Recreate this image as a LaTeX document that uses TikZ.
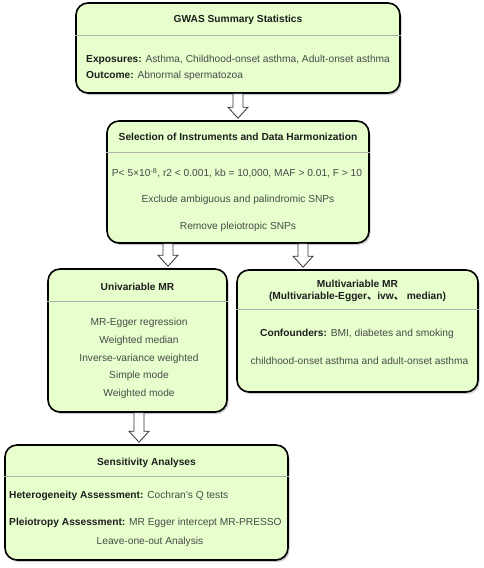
\documentclass[tikz,border=0pt]{standalone}
\usepackage{fontspec}
\setmainfont{Liberation Sans}
\newfontfamily\cjk{Noto Sans CJK SC}
\usetikzlibrary{calc,shadows}
\definecolor{boxfill}{HTML}{E6FFCC}
\definecolor{txtdark}{HTML}{1E1E1E}
\definecolor{txtgray}{HTML}{4A4A4A}
\definecolor{sepgray}{HTML}{B0B0B0}
\tikzset{
  flowbox/.style={draw=black, line width=1.6pt, fill=boxfill, rounded corners=12pt,
    inner sep=0pt, drop shadow={shadow xshift=1.5pt, shadow yshift=-2pt, opacity=0.35, fill=black!60}},
  sepline/.style={draw=sepgray, line width=0.8pt},
  ttl/.style={font=\fontsize{10.2}{12}\selectfont\bfseries, text=txtdark, inner sep=0pt},
  txt/.style={font=\fontsize{10.2}{12}\selectfont, text=txtgray, inner sep=0pt},
  barrow/.style={draw=black!80, line width=0.8pt, fill=white, line join=miter},
}
\newcommand\blockarr[2]{%
  \draw[barrow] let \p1=(#1), \p2=(#2) in
    (\x1-5pt,\y1) -- (\x1+5pt,\y1) -- (\x1+5pt,\y2+13pt) -- (\x1+10pt,\y2+13pt)
    -- (\x1,\y2+2pt) -- (\x1-10pt,\y2+13pt) -- (\x1-5pt,\y2+13pt) -- cycle;}
\newcommand\bb[1]{{\bfseries\color{txtdark}#1}}
\begin{document}
\begin{tikzpicture}[x=1pt,y=-1pt]
\useasboundingbox (0,0) rectangle (484,568);
% boxes
\node[flowbox, minimum width=324pt, minimum height=90pt] (b1) at (238,48) {};
\node[flowbox, minimum width=262pt, minimum height=122pt] (b2) at (238,182) {};
\node[flowbox, minimum width=179pt, minimum height=143pt] (b3) at (137.5,340.5) {};
\node[flowbox, minimum width=241pt, minimum height=122pt] (b4) at (357.5,331) {};
\node[flowbox, minimum width=283pt, minimum height=115pt] (b5) at (146.5,502.5) {};
% arrow positions
\coordinate (x2) at (168,0);
\coordinate (x3) at (303,0);
\coordinate (x4) at (139,0);
\coordinate (a2s) at (b2.south -| x2);
\coordinate (a2e) at (b3.north -| x2);
\coordinate (a3s) at (b2.south -| x3);
\coordinate (a3e) at (b4.north -| x3);
\coordinate (a4s) at (b3.south -| x4);
\coordinate (a4e) at (b5.north -| x4);
\blockarr{b1.south}{b2.north}
\blockarr{a2s}{a2e}
\blockarr{a3s}{a3e}
\blockarr{a4s}{a4e}
% separators
\coordinate (s1) at (0,35);
\coordinate (s2) at (0,152);
\coordinate (s3) at (0,301);
\coordinate (s4) at (0,309);
\coordinate (s5) at (0,476);
\draw[sepline] (b1.west |- s1) -- (b1.east |- s1);
\draw[sepline] (b2.west |- s2) -- (b2.east |- s2);
\draw[sepline] (b3.west |- s3) -- (b3.east |- s3);
\draw[sepline] (b4.west |- s4) -- (b4.east |- s4);
\draw[sepline] (b5.west |- s5) -- (b5.east |- s5);
% box 1 text
\node[ttl] (t1) at (238,20) {GWAS Summary Statistics};
\node[txt, anchor=west] (t1a) at (86,60) {\bb{Exposures:} Asthma, Childhood-onset asthma, Adult-onset asthma};
\node[txt, anchor=west] (t1b) at (86,76) {\bb{Outcome:} Abnormal spermatozoa};
% box 2 text
\node[ttl] (t2) at (238,137) {Selection of Instruments and Data Harmonization};
\node[txt] (t2a) at (237,173) {P< 5×10\textsuperscript{-8}, r2 < 0.001, kb = 10,000, MAF > 0.01, F > 10};
\node[txt] (t2b) at (238,200) {Exclude ambiguous and palindromic SNPs};
\node[txt] (t2c) at (238,227) {Remove pleiotropic SNPs};
% box 3 text
\node[ttl] (t3) at (137.5,287) {Univariable MR};
\node[txt] (t3a) at (139,323) {MR-Egger regression};
\node[txt] (t3b) at (139,341) {Weighted median};
\node[txt] (t3c) at (139,359) {Inverse-variance weighted};
\node[txt] (t3d) at (139,376) {Simple mode};
\node[txt] (t3e) at (139,394) {Weighted mode};
% box 4 text
\node[ttl, align=center] (t4) at (357.5,291) {Multivariable MR\\(Multivariable-Egger{\cjk 、}ivw{\cjk 、} median)};
\node[txt] (t4a) at (357,334) {\bb{Confounders:} BMI, diabetes and smoking};
\node[txt] (t4b) at (359.5,361) {childhood-onset asthma and adult-onset asthma};
% box 5 text
\node[ttl] (t5) at (146.5,463) {Sensitivity Analyses};
\node[txt, anchor=west] (t5a) at (9,496) {\bb{Heterogeneity Assessment:} Cochran's Q tests};
\node[txt, anchor=west] (t5b) at (9,523) {\bb{Pleiotropy Assessment:} MR Egger intercept MR-PRESSO};
\node[txt] (t5c) at (150,542) {Leave-one-out Analysis};
\end{tikzpicture}
\end{document}
